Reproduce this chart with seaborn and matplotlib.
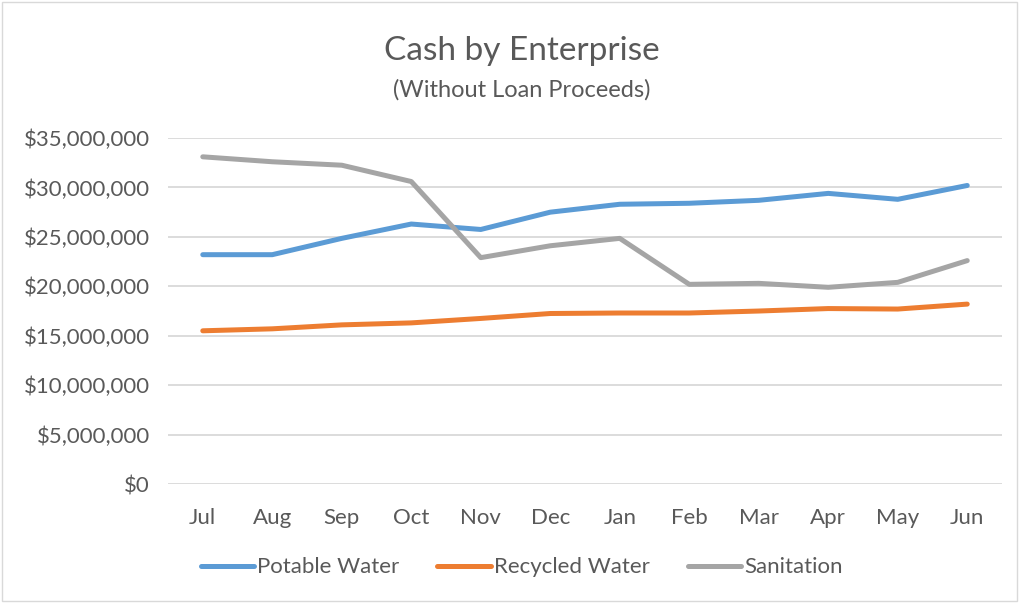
import pandas as pd
import seaborn as sns
import matplotlib.pyplot as plt
from matplotlib.ticker import FuncFormatter
from matplotlib.patches import Rectangle

# Data (dollars, millions)
months = ['Jul', 'Aug', 'Sep', 'Oct', 'Nov', 'Dec', 'Jan', 'Feb', 'Mar', 'Apr', 'May', 'Jun']
potable = [23.2, 23.2, 24.85, 26.3, 25.75, 27.5, 28.3, 28.4, 28.7, 29.4, 28.8, 30.2]
recycled = [15.5, 15.7, 16.1, 16.3, 16.75, 17.25, 17.3, 17.3, 17.5, 17.75, 17.7, 18.2]
sanitation = [33.1, 32.6, 32.25, 30.6, 22.9, 24.1, 24.85, 20.2, 20.3, 19.9, 20.4, 22.6]
series_names = ['Potable Water', 'Recycled Water', 'Sanitation']
colors = ['#5B9BD5', '#ED7D31', '#A5A5A5']

data = pd.DataFrame({
    'Month': months * 3,
    'Cash': [v * 1e6 for v in potable + recycled + sanitation],
    'Enterprise': [n for n in series_names for _ in months],
})
data['x'] = data['Month'].map({m: i for i, m in enumerate(months)})

sns.set_style('white')
plt.rcParams['font.family'] = ['Lato', 'DejaVu Sans']

fig = plt.figure(figsize=(10.19, 6.03), dpi=100)
ax = fig.add_axes([0.1649, 0.1973, 0.8184, 0.5738])

sns.lineplot(data=data, x='x', y='Cash', hue='Enterprise', palette=colors,
             linewidth=3.6, ax=ax, legend=False)
for line in ax.lines:
    line.set_solid_capstyle('round')
    line.set_solid_joinstyle('round')

ax.set_xlim(-0.5, len(months) - 0.5)
ax.set_ylim(0, 35e6)
ax.set_yticks([i * 5e6 for i in range(8)])
ax.yaxis.set_major_formatter(FuncFormatter(lambda v, p: '${:,.0f}'.format(v)))
ax.set_xticks(range(len(months)))
ax.set_xticklabels(months)
ax.set_xlabel('')
ax.set_ylabel('')
ax.grid(axis='y', color='#D9D9D9', linewidth=1.3)
ax.set_axisbelow(True)
for s in ax.spines.values():
    s.set_visible(False)
ax.tick_params(axis='both', length=0, labelsize=16, colors='#595959')
ax.tick_params(axis='y', pad=13)
ax.tick_params(axis='x', pad=17)

fig.text(0.512, 0.916, 'Cash by Enterprise', ha='center', va='center',
         fontsize=24, color='#595959')
fig.text(0.512, 0.851, '(Without Loan Proceeds)', ha='center', va='center',
         fontsize=17, color='#595959')

handles = [plt.Line2D([], [], color=c, lw=3.6, solid_capstyle='round') for c in colors]
fig.legend(handles, series_names, loc='center', bbox_to_anchor=(0.512, 0.059), ncol=3,
           frameon=False, fontsize=16, labelcolor='#595959', handlelength=2.4,
           handletextpad=0.15, columnspacing=1.7)

fig.patches.append(Rectangle((0.002, 0.003), 0.996, 0.994, transform=fig.transFigure,
                             fill=False, edgecolor='#D9D9D9', linewidth=1))

fig.savefig('out.png', dpi=100)
